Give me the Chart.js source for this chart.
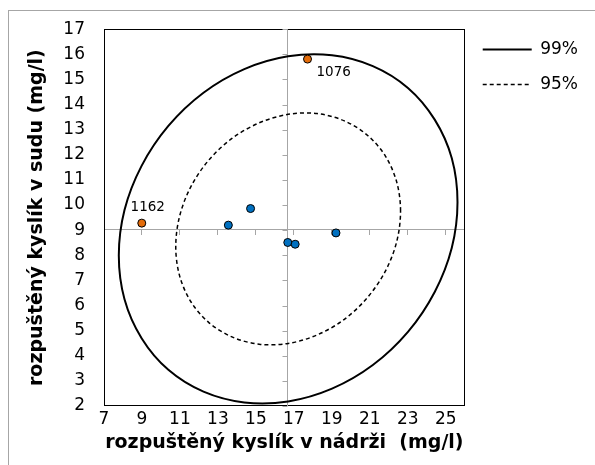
<!DOCTYPE html>
<html>
<head>
<meta charset="utf-8">
<script src="https://cdn.jsdelivr.net/npm/chart.js@4/dist/chart.umd.min.js"></script>
<style>
  html, body { margin: 0; padding: 0; background: #fff; }
  #wrap { position: relative; width: 595px; height: 465px; overflow: hidden; }
  #frame { position: absolute; left: 8px; top: 10px; width: 640px; height: 520px; border: 1px solid #a6a6a6; box-sizing: border-box; pointer-events: none; }
  canvas { position: absolute; left: 0; top: 0; }
</style>
</head>
<body>
<div id="wrap">
  <div id="frame"></div>
  <canvas id="c" width="595" height="465"></canvas>
</div>
<script>
// ---- data ----
const xTicks = [7, 9, 11, 13, 15, 17, 19, 21, 23, 25];
const yTicks = [2, 3, 4, 5, 6, 7, 8, 9, 10, 11, 12, 13, 14, 15, 16, 17];
const xTitle = 'rozpuštěný kyslík v nádrži  (mg/l)';
const yTitle = 'rozpuštěný kyslík v sudu (mg/l)';

// ellipse outlines (closed loops; first and last point only anchor the curve ends)
const ellipse99X = [25.32, 25.62, 25.32, 24.42, 23.01, 21.16, 19.01, 16.70, 14.39, 12.24, 10.39, 8.98, 8.08, 7.78, 8.08, 8.98, 10.39, 12.24, 14.39, 16.70, 19.01, 21.16, 23.01, 24.42, 25.32, 25.62, 25.32];
const ellipse99Y = [8.30, 10.11, 11.86, 13.40, 14.66, 15.53, 15.96, 15.92, 15.41, 14.47, 13.15, 11.56, 9.80, 7.99, 6.25, 4.70, 3.44, 2.57, 2.14, 2.18, 2.69, 3.63, 4.95, 6.54, 8.30, 10.11, 11.86];
const ellipse95X = [22.42, 22.62, 22.42, 21.83, 20.89, 19.66, 18.23, 16.70, 15.17, 13.74, 12.51, 11.57, 10.98, 10.78, 10.98, 11.57, 12.51, 13.74, 15.17, 16.70, 18.23, 19.66, 20.89, 21.83, 22.42, 22.62, 22.42];
const ellipse95Y = [8.55, 9.76, 10.91, 11.94, 12.77, 13.35, 13.64, 13.61, 13.27, 12.65, 11.78, 10.72, 9.55, 8.34, 7.19, 6.16, 5.33, 4.75, 4.46, 4.49, 4.83, 5.45, 6.33, 7.38, 8.55, 9.76, 10.91];

const blueX = [13.55, 14.72, 16.68, 17.07, 19.22];
const blueY = [9.20, 9.86, 8.51, 8.44, 8.89];
const outlierX = [17.72, 8.99];
const outlierY = [15.81, 9.28];
const outlierLabels = ['1076', '1162'];

const meanX = 16.66;
const meanY = 9.04;

const seriesNames = ['99%', '95%'];

// ---- build ----
const pts = (xs, ys) => xs.map((x, i) => ({ x: x, y: ys[i] }));
const FONT = "'DejaVu Sans', Verdana, sans-serif";
Chart.defaults.font.family = FONT;
Chart.defaults.color = '#000';

const GRAY = '#a6a6a6';
const setX = s => { s.ticks = xTicks.map(v => ({ value: v })); };
const setY = s => { s.ticks = yTicks.map(v => ({ value: v })); };
const hideEnds = n => ({
  borderColor: c => (c.p0DataIndex === 0 || c.p1DataIndex === n - 1) ? 'rgba(0,0,0,0)' : undefined
});

const frame = {
  id: 'frame',
  beforeDatasetsDraw(chart) {
    const a = chart.chartArea, ctx = chart.ctx;
    ctx.save();
    ctx.strokeStyle = '#000';
    ctx.lineWidth = 1;
    ctx.strokeRect(Math.round(a.left) + 0.5, Math.round(a.top) + 0.5, Math.round(a.right - a.left) - 1, Math.round(a.bottom - a.top) - 1);
    // vertical crossing axis at meanX with tick marks on the y ticks
    const xs = chart.scales.x, ys = chart.scales.y;
    const px = Math.round(xs.getPixelForValue(meanX)) + 0.5;
    ctx.strokeStyle = GRAY;
    ctx.beginPath();
    ctx.moveTo(px, a.top);
    ctx.lineTo(px, a.bottom);
    ys.ticks.forEach(t => {
      const py = Math.round(ys.getPixelForValue(t.value)) + 0.5;
      ctx.moveTo(px, py);
      ctx.lineTo(px - 5, py);
    });
    ctx.stroke();
    ctx.restore();
  }
};

const labelOffsets = [{ dx: 9, dy: 13, align: 'left' }, { dx: 6, dy: -16, align: 'center' }];
const pointLabels = {
  id: 'pointLabels',
  afterDatasetsDraw(chart) {
    const meta = chart.getDatasetMeta(3);
    const ctx = chart.ctx;
    ctx.save();
    ctx.font = '13.5px ' + FONT;
    ctx.fillStyle = '#000';
    ctx.textBaseline = 'middle';
    meta.data.forEach((el, i) => {
      const o = labelOffsets[i];
      ctx.textAlign = o.align;
      ctx.fillText(outlierLabels[i], el.x + o.dx, el.y + o.dy);
    });
    ctx.restore();
  }
};

new Chart(document.getElementById('c'), {
  type: 'scatter',
  data: {
    datasets: [
      {
        label: seriesNames[0],
        data: pts(ellipse99X, ellipse99Y),
        showLine: true, tension: 0.33,
        borderColor: '#000', borderWidth: 2,
        segment: hideEnds(ellipse99X.length),
        pointRadius: 0, pointHoverRadius: 0, pointStyle: 'line',
        order: 3
      },
      {
        label: seriesNames[1],
        data: pts(ellipse95X, ellipse95Y),
        showLine: true, tension: 0.33,
        borderColor: '#000', borderWidth: 1.5, borderDash: [4, 3],
        segment: hideEnds(ellipse95X.length),
        pointRadius: 0, pointHoverRadius: 0, pointStyle: 'line',
        order: 2
      },
      {
        label: 'data',
        data: pts(blueX, blueY),
        pointRadius: 4, backgroundColor: '#0070c0', borderColor: '#000', borderWidth: 1,
        order: 1
      },
      {
        label: 'outliers',
        data: pts(outlierX, outlierY),
        pointRadius: 4, backgroundColor: '#e46c0a', borderColor: '#000', borderWidth: 1,
        order: 0
      }
    ]
  },
  options: {
    responsive: false,
    animation: false,
    events: [],
    layout: { padding: { top: 23, left: 0, right: 7, bottom: 0 } },
    plugins: {
      tooltip: { enabled: false },
      legend: {
        display: true,
        position: 'right',
        align: 'start',
        labels: {
          usePointStyle: true,
          pointStyleWidth: 49,
          padding: 18,
          font: { size: 17 },
          color: '#000',
          filter: item => item.datasetIndex < 2,
          sort: (a, b) => a.datasetIndex - b.datasetIndex,
          generateLabels: chart => {
            const items = Chart.defaults.plugins.legend.labels.generateLabels(chart);
            items.forEach(it => {
              const ds = chart.data.datasets[it.datasetIndex];
              it.lineDash = ds.borderDash || [];
              it.lineWidth = ds.borderWidth;
              it.strokeStyle = ds.borderColor;
              it.pointStyle = 'line';
            });
            return items;
          }
        }
      }
    },
    scales: {
      x: {
        type: 'linear', position: 'bottom', min: 7, max: 26,
        afterBuildTicks: setX,
        afterFit: s => { s.height = 59; },
        grid: { display: false, drawTicks: false },
        border: { display: false },
        ticks: { padding: 3, font: { size: 17 }, color: '#000', maxRotation: 0, autoSkip: false },
        title: { display: true, text: xTitle, font: { size: 19, weight: 'bold' }, color: '#000', padding: { top: 0, bottom: 11 } }
      },
      y: {
        type: 'linear', position: 'left', min: 2, max: 17,
        afterBuildTicks: setY,
        afterFit: s => { s.width = 104; },
        grid: { display: false, drawTicks: false },
        border: { display: false },
        ticks: { padding: 19, font: { size: 17 }, color: '#000', autoSkip: false },
        title: { display: true, text: yTitle, font: { size: 19, weight: 'bold' }, color: '#000', padding: { top: 26, bottom: 0 } }
      },
      x2: {
        type: 'linear', axis: 'x', position: { y: meanY }, min: 7, max: 26,
        afterBuildTicks: setX,
        ticks: { display: false },
        grid: { display: true, drawOnChartArea: false, drawTicks: true, tickLength: 5, color: GRAY, lineWidth: 1 },
        border: { display: true, color: GRAY, width: 1 }
      }
    }
  },
  plugins: [frame, pointLabels]
});
</script>
</body>
</html>
